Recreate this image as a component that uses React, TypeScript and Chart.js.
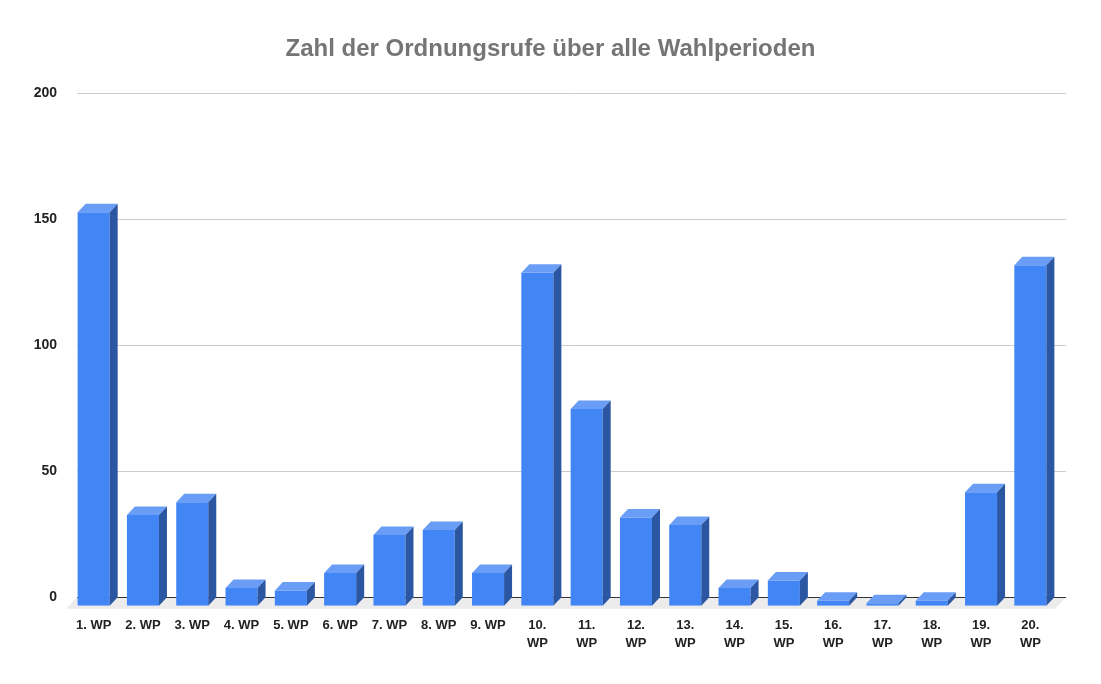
import { useEffect, useRef } from "react";
import { Chart, registerables } from "chart.js";

Chart.register(...registerables);

const periods = [
  "1. WP", "2. WP", "3. WP", "4. WP", "5. WP", "6. WP", "7. WP", "8. WP", "9. WP", "10. WP",
  "11. WP", "12. WP", "13. WP", "14. WP", "15. WP", "16. WP", "17. WP", "18. WP", "19. WP", "20. WP",
];
const calls = [156, 36, 41, 7, 6, 13, 28, 30, 13, 132, 78, 35, 32, 7, 10, 2, 1, 2, 45, 135];
const yTicks = [0, 50, 100, 150, 200];

// 3d offset of the back plane
const DX = 8;
const DY = 8.5;

const FRONT = "#4285f4";
const TOP = "#6a9ef6";
const SIDE = "#2b56a2";

const bars3d = {
  id: "bars3d",
  beforeDatasetsDraw(chart: any) {
    const { ctx, chartArea: a, scales } = chart;
    const ys = scales.y;
    const base = ys.getPixelForValue(0);
    ctx.save();
    // floor
    ctx.fillStyle = "#ececec";
    ctx.beginPath();
    ctx.moveTo(a.left + DX, base - DY);
    ctx.lineTo(a.right + DX + 3, base - DY);
    ctx.lineTo(a.right, base + 3);
    ctx.lineTo(a.left - 3, base + 3);
    ctx.closePath();
    ctx.fill();
    // grid on the back wall
    ctx.lineWidth = 1;
    for (const v of yTicks) {
      const py = Math.round(ys.getPixelForValue(v) - DY) + 0.5;
      ctx.strokeStyle = v === 0 ? "#333333" : "#cccccc";
      ctx.beginPath();
      ctx.moveTo(a.left + DX, py);
      ctx.lineTo(a.right + DX + 3, py);
      ctx.stroke();
    }
    ctx.restore();
  },
  afterDatasetsDraw(chart: any) {
    const { ctx } = chart;
    const meta = chart.getDatasetMeta(0);
    ctx.save();
    for (const bar of meta.data) {
      const { x, y, base, width } = bar.getProps(["x", "y", "base", "width"], true);
      const l = x - width / 2;
      const r = x + width / 2;
      ctx.fillStyle = TOP;
      ctx.beginPath();
      ctx.moveTo(l, y);
      ctx.lineTo(r, y);
      ctx.lineTo(r + DX, y - DY);
      ctx.lineTo(l + DX, y - DY);
      ctx.closePath();
      ctx.fill();
      ctx.fillStyle = SIDE;
      ctx.beginPath();
      ctx.moveTo(r, y);
      ctx.lineTo(r + DX, y - DY);
      ctx.lineTo(r + DX, base - DY);
      ctx.lineTo(r, base);
      ctx.closePath();
      ctx.fill();
    }
    ctx.restore();
  },
};

export default function App() {
  const canvasRef = useRef<HTMLCanvasElement>(null);

  useEffect(() => {
    if (!canvasRef.current) return;
    Chart.defaults.font.family = "Arial, 'Liberation Sans', sans-serif";
    const chart = new Chart(canvasRef.current, {
      type: "bar",
      data: {
        labels: periods.map((p) => (p.length > 5 ? p.split(" ") : p)),
        datasets: [
          {
            label: "Ordnungsrufe",
            data: calls,
            backgroundColor: FRONT,
            borderWidth: 0,
            categoryPercentage: 1,
            barPercentage: 0.65,
          },
        ],
      },
      options: {
        animation: false,
        responsive: true,
        maintainAspectRatio: false,
        layout: { padding: 0 },
        plugins: {
          legend: { display: false },
          tooltip: { enabled: false },
          title: {
            display: true,
            text: "Zahl der Ordnungsrufe über alle Wahlperioden",
            color: "#757575",
            font: { size: 24, weight: "bold" },
            padding: { top: 34.6, bottom: 37.8 },
          },
        },
        scales: {
          x: {
            grid: { display: false, drawTicks: false },
            border: { display: false },
            ticks: {
              color: "#222222",
              font: { size: 13, weight: "bold", lineHeight: 1.35 },
              padding: 11,
              maxRotation: 0,
              autoSkip: false,
            },
            afterFit: (s: any) => {
              s.height = 78.3;
            },
          },
          y: {
            min: 0,
            max: 200,
            grid: { display: false, drawTicks: false },
            border: { display: false },
            ticks: {
              stepSize: 50,
              color: "#222222",
              font: { size: 14, weight: "bold" },
              padding: 12,
              labelOffset: -DY,
            },
            afterFit: (s: any) => {
              s.width = 69;
            },
          },
          // empty right-hand gutter so the title stays centred on the page
          gutter: {
            type: "linear",
            position: "right",
            grid: { display: false, drawTicks: false },
            border: { display: false },
            ticks: { display: false },
            afterFit: (s: any) => {
              s.width = 46;
            },
          },
        },
      },
      plugins: [bars3d],
    });
    return () => chart.destroy();
  }, []);

  return (
    <div style={{ position: "fixed", left: 0, top: 0, width: 1101, height: 684, background: "#fff" }}>
      <canvas ref={canvasRef} />
    </div>
  );
}
